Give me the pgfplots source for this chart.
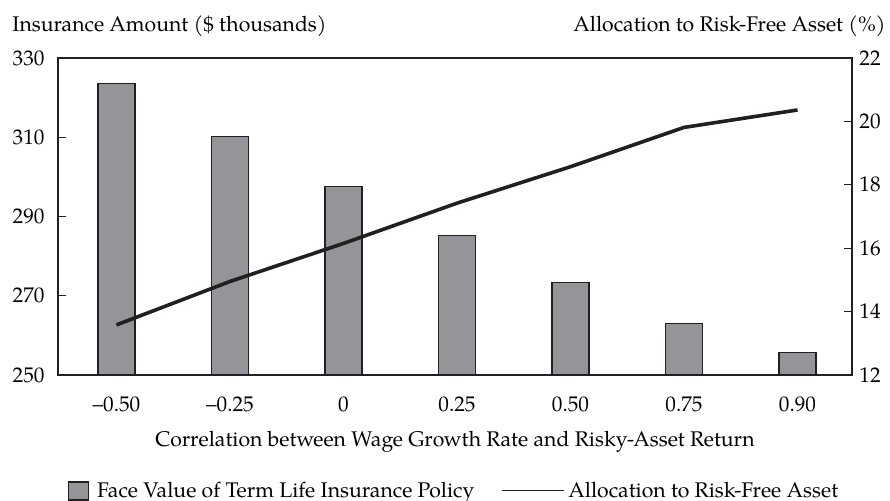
\documentclass[border=0pt]{standalone}
\usepackage{fontspec}
\setmainfont{TeX Gyre Pagella}
\usepackage{pgfplots}
\pgfplotsset{compat=1.18}
\usetikzlibrary{calc}
\definecolor{barGray}{HTML}{939598}
\definecolor{inkBlack}{HTML}{231F20}

\begin{document}
\fontsize{10.6}{12.5}\selectfont
\begin{tikzpicture}
  % left axis: face value of the policy (bars)
  \begin{axis}[
    name=main,
    scale only axis,
    width=397pt, height=158.5pt,
    xmin=-0.515, xmax=6.48,
    ymin=250, ymax=330,
    ytick={250,270,...,330},
    xtick={0,...,6},
    xticklabels={–0.50,–0.25,0,0.25,0.50,0.75,0.90},
    ytick pos=left,
    major tick length=4pt,
    tick align=inside,
    x tick style={draw=none},
    tick style={inkBlack, line width=0.6pt},
    axis line style={inkBlack, line width=0.6pt},
    xticklabel style={anchor=base, yshift=-18.5pt},
    yticklabel style={xshift=-3pt},
    /pgf/number format/assume math mode=true,
    legend columns=2,
    legend style={at={(0.5,-0.31)}, anchor=north, draw=none, fill=none,
      /tikz/every even column/.append style={column sep=11.5pt},
      /tikz/every odd column/.append style={column sep=0pt}},
    legend cell align=left,
  ]
    \addplot[ybar, bar width=0.326, fill=barGray, draw=inkBlack, line width=0.6pt,
      legend image code/.code={\draw[fill=barGray, draw=inkBlack, line width=0.6pt] (0pt,-4.5pt) rectangle (10pt,4.5pt);
        \path (12pt,0pt);}]
      coordinates {(0,323.6) (1,310.2) (2,297.5) (3,285.3) (4,273.3) (5,263.0) (6,255.7)};
    \addlegendentry{Face Value of Term Life Insurance Policy}
    \addlegendimage{legend image code/.code={\draw[inkBlack, line width=0.5pt] (0pt,0pt) -- (31pt,0pt);}}
    \addlegendentry{Allocation to Risk-Free Asset}
  \end{axis}
  % right axis: allocation to the risk-free asset (line)
  \begin{axis}[
    scale only axis,
    width=397pt, height=158.5pt,
    xmin=-0.515, xmax=6.48,
    ymin=12, ymax=22,
    ytick={12,14,...,22},
    axis y line*=right,
    axis x line=none,
    major tick length=4pt,
    tick align=inside,
    tick style={inkBlack, line width=0.6pt},
    axis line style={inkBlack, line width=0.6pt},
    /pgf/number format/assume math mode=true,
  ]
    \addplot[inkBlack, line width=1.8pt, mark=none]
      coordinates {(0,13.58) (1,14.95) (2,16.15) (3,17.42) (4,18.57) (5,19.81) (6,20.36)};
  \end{axis}
  \node[anchor=base west, inner sep=0pt] at ($(main.north west)+(-23pt,13pt)$) {Insurance Amount (\$ thousands)};
  \node[anchor=base east, inner sep=0pt] at ($(main.north east)+(17pt,13pt)$) {Allocation to Risk-Free Asset (\%)};
  \node[anchor=base, inner sep=0pt] at ($(main.south)+(0,-36pt)$) {Correlation between Wage Growth Rate and Risky-Asset Return};
  \pgfresetboundingbox
  \path[use as bounding box] ($(main.south west)+(-29pt,-63pt)$) rectangle ($(main.north east)+(19pt,29pt)$);
\end{tikzpicture}
\end{document}
